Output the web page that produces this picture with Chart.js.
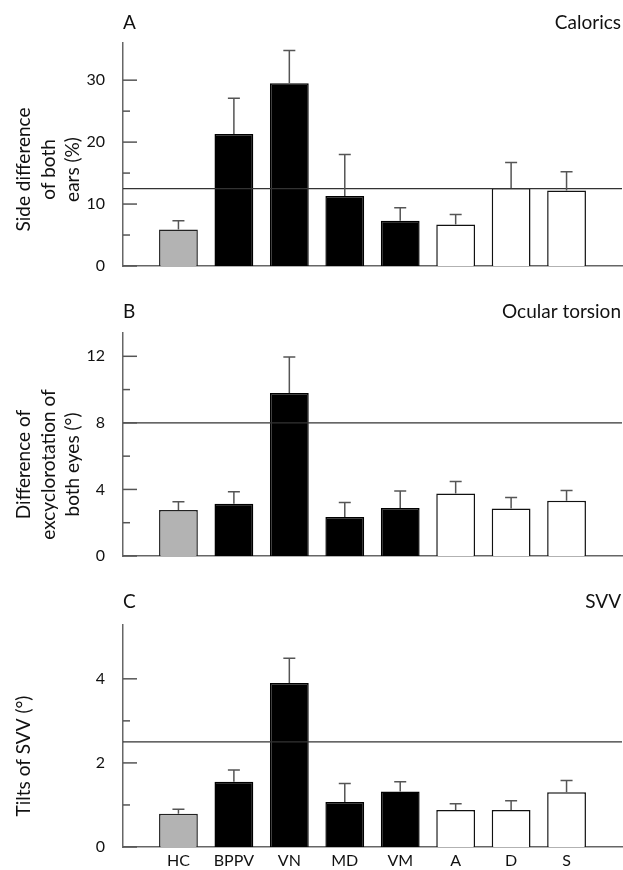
<!DOCTYPE html>
<html>
<head>
<meta charset="utf-8">
<script src="https://cdn.jsdelivr.net/npm/chart.js@4.4.1/dist/chart.umd.min.js"></script>
<style>
  body { margin: 0; background: #fff; overflow: hidden; }
  .panel { position: absolute; left: 0; width: 623px; height: 290px; }
</style>
</head>
<body>
<div class="panel" style="top:0px"><canvas id="chartA"></canvas></div>
<div class="panel" style="top:290px"><canvas id="chartB"></canvas></div>
<div class="panel" style="top:580px; height:300px"><canvas id="chartC"></canvas></div>
<script>
// ---------- data ----------
const categories = ['HC', 'BPPV', 'VN', 'MD', 'VM', 'A', 'D', 'S'];
const groups = ['control', 'peripheral', 'peripheral', 'peripheral', 'peripheral', 'psychiatric', 'psychiatric', 'psychiatric'];

const caloricsMean = [5.9, 21.3, 29.5, 11.3, 7.3, 6.7, 12.6, 12.2];
const caloricsErr  = [1.4, 5.8, 5.3, 6.7, 2.1, 1.6, 4.1, 3.0];
const caloricsRef  = 12.5;

const torsionMean = [2.76, 3.14, 9.79, 2.35, 2.88, 3.76, 2.85, 3.32];
const torsionErr  = [0.50, 0.72, 2.17, 0.87, 1.02, 0.72, 0.67, 0.62];
const torsionRef  = 8;

const svvMean = [0.79, 1.55, 3.90, 1.07, 1.32, 0.88, 0.88, 1.30];
const svvErr  = [0.11, 0.28, 0.59, 0.44, 0.23, 0.15, 0.22, 0.28];
const svvRef  = 2.5;

const caloricsTicks = [0, 10, 20, 30];
const torsionTicks = [0, 4, 8, 12];
const svvTicks = [0, 2, 4];

// ---------- styles ----------
const FONT = 'Lato, "Open Sans", sans-serif';
const groupFill = { control: '#b3b3b3', peripheral: '#000000', psychiatric: '#ffffff' };
const groupBorder = { control: '#222222', peripheral: '#000000', psychiatric: '#111111' };
const AXIS = '#666666';

function makePanel(id, cfg) {
  const labels = [''].concat(categories, ['']);
  const data = [null].concat(cfg.mean, [null]);
  const errs = [null].concat(cfg.err, [null]);
  const fills = [null].concat(groups.map(g => groupFill[g]), [null]);
  const borders = [null].concat(groups.map(g => groupBorder[g]), [null]);

  const decor = {
    id: 'decor_' + id,
    afterDatasetsDraw(chart) {
      const ctx = chart.ctx;
      const ys = chart.scales.y;
      const area = chart.chartArea;
      ctx.save();
      // reference line
      const yr = ys.getPixelForValue(cfg.ref);
      ctx.strokeStyle = '#333';
      ctx.lineWidth = 1.2;
      ctx.beginPath();
      ctx.moveTo(area.left, yr);
      ctx.lineTo(area.right, yr);
      ctx.stroke();
      // error bars
      const meta = chart.getDatasetMeta(0);
      ctx.strokeStyle = '#555';
      ctx.lineWidth = 1.5;
      meta.data.forEach((el, i) => {
        if (data[i] === null) return;
        const x = el.x;
        const y0 = el.y;
        const y1 = ys.getPixelForValue(data[i] + errs[i]);
        ctx.beginPath();
        ctx.moveTo(x, y0);
        ctx.lineTo(x, y1);
        ctx.moveTo(x - 6, y1);
        ctx.lineTo(x + 6, y1);
        ctx.stroke();
      });
      // inward tick marks
      ctx.strokeStyle = '#555';
      ctx.lineWidth = 1.5;
      ys.ticks.forEach(t => {
        const k = t.value / cfg.step;
        if (Math.abs(k - Math.round(k)) > 1e-6) return;
        const major = cfg.labelTicks.some(v => Math.abs(v - t.value) < 1e-6);
        const len = major ? 14 : 7;
        const py = ys.getPixelForValue(t.value);
        ctx.beginPath();
        ctx.moveTo(area.left, py);
        ctx.lineTo(area.left + len, py);
        ctx.stroke();
      });
      // panel letter + name
      ctx.fillStyle = '#111';
      ctx.font = '19px ' + FONT;
      ctx.textBaseline = 'middle';
      ctx.textAlign = 'left';
      ctx.fillText(cfg.letter, area.left, cfg.headY);
      ctx.textAlign = 'right';
      ctx.fillText(cfg.name, 621, cfg.headY);
      // y axis title
      ctx.font = cfg.titleSize + 'px ' + FONT;
      ctx.textAlign = 'center';
      const cy = (area.top + area.bottom) / 2 + cfg.titleShift;
      cfg.title.forEach((line, j) => {
        ctx.save();
        ctx.translate(cfg.titleX[j], cy);
        ctx.rotate(-Math.PI / 2);
        ctx.fillText(line, 0, 0);
        ctx.restore();
      });
      ctx.restore();
    }
  };

  return new Chart(document.getElementById(id), {
    type: 'bar',
    data: {
      labels: labels,
      datasets: [{
        data: data,
        backgroundColor: fills,
        borderColor: borders,
        borderWidth: 1.5,
        borderSkipped: 'bottom',
        barPercentage: 0.7,
        categoryPercentage: 1.0
      }]
    },
    options: {
      responsive: true,
      maintainAspectRatio: false,
      animation: false,
      events: [],
      layout: { padding: { top: cfg.padTop, right: 1, left: 0, bottom: 0 } },
      plugins: { legend: { display: false }, tooltip: { enabled: false }, title: { display: false } },
      scales: {
        x: {
          type: 'category',
          offset: false,
          grid: { display: false },
          border: { display: true, color: AXIS, width: 1.5 },
          ticks: {
            display: cfg.showX,
            autoSkip: false,
            maxRotation: 0,
            padding: -4,
            color: '#111',
            font: { family: FONT, size: 16 }
          },
          afterFit(scale) { scale.height = cfg.xHeight; }
        },
        y: {
          min: 0,
          max: cfg.max,
          grid: { display: false },
          border: { display: true, color: AXIS, width: 1.5 },
          ticks: {
            stepSize: cfg.step,
            padding: 10,
            color: '#111',
            font: { family: FONT, size: 16 },
            callback: (v) => cfg.labelTicks.some(t => Math.abs(t - v) < 1e-6) ? String(v) : ''
          },
          afterFit(scale) { scale.width = 123; }
        }
      }
    },
    plugins: [decor]
  });
}

makePanel('chartA', {
  mean: caloricsMean, err: caloricsErr, ref: caloricsRef,
  max: 36, step: 5, labelTicks: caloricsTicks,
  letter: 'A', name: 'Calorics', headY: 23,
  title: ['Side difference', 'of both', 'ears (%)'], titleX: [24, 48.5, 73], titleSize: 19, titleShift: 15,
  padTop: 43, xHeight: 24, showX: false
});
makePanel('chartB', {
  mean: torsionMean, err: torsionErr, ref: torsionRef,
  max: 13.4, step: 2, labelTicks: torsionTicks,
  letter: 'B', name: 'Ocular torsion', headY: 22,
  title: ['Difference of', 'excyclorotation of', 'both eyes (°)'], titleX: [24, 48.5, 73], titleSize: 19, titleShift: 20,
  padTop: 43, xHeight: 24, showX: false
});
makePanel('chartC', {
  mean: svvMean, err: svvErr, ref: svvRef,
  max: 5.28, step: 1, labelTicks: svvTicks,
  letter: 'C', name: 'SVV', headY: 22,
  title: ['Tilts of SVV (°)'], titleX: [24], titleSize: 19, titleShift: 20,
  padTop: 45, xHeight: 33, showX: true
});
</script>
</body>
</html>
